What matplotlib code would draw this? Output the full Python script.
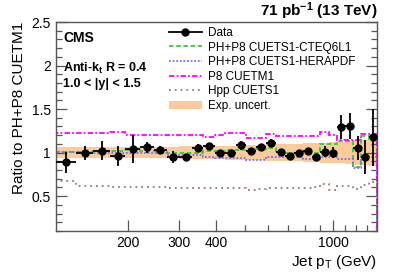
import numpy as np
import matplotlib
matplotlib.use("Agg")
import matplotlib.pyplot as plt
from matplotlib.lines import Line2D
from matplotlib.patches import Patch
from matplotlib.ticker import FixedLocator, NullFormatter, FixedFormatter, MultipleLocator

plt.rcParams['font.family'] = ['Liberation Sans', 'DejaVu Sans']
plt.rcParams['mathtext.fontset'] = 'custom'
plt.rcParams['mathtext.rm'] = 'Liberation Sans'
plt.rcParams['mathtext.it'] = 'Liberation Sans:italic'
plt.rcParams['mathtext.bf'] = 'Liberation Sans:bold'

# ---- data ----
bin_edges = [114, 133, 153, 174, 196, 220, 245, 272, 300, 330, 362, 395, 430, 468,
             507, 548, 592, 638, 686, 737, 790, 846, 905, 967, 1032, 1101, 1172,
             1248, 1327, 1410]
data_ratio = [0.887, 0.99, 1.02, 0.96, 1.04, 1.06, 1.03, 0.95, 0.95, 1.055, 1.075,
              0.995, 1.0, 1.085, 1.017, 1.063, 1.115, 1.01, 0.963, 0.994, 1.013,
              0.945, 1.01, 1.0, 1.297, 1.305, 1.055, 0.95, 1.175]
data_err = [0.12, 0.08, 0.11, 0.115, 0.16, 0.06, 0.05, 0.07, 0.03, 0.04, 0.04, 0.03,
            0.025, 0.05, 0.03, 0.04, 0.04, 0.03, 0.03, 0.03, 0.03, 0.04, 0.06, 0.065,
            0.14, 0.15, 0.14, 0.2, 0.33]
cteq6l1 = [1.01, 1.01, 1.02, 1.02, 1.03, 1.02, 1.02, 0.99, 0.99, 1.0, 1.02, 1.02,
           1.03, 1.03, 1.04, 1.04, 1.05, 1.0, 0.99, 1.0, 1.0, 1.0, 1.10, 1.10,
           1.13, 1.13, 0.84, 1.19, 1.16]
herapdf = [1.01, 1.01, 1.0, 1.0, 0.99, 0.99, 0.99, 0.97, 0.97, 0.97, 0.95, 0.94,
           0.94, 0.94, 0.92, 0.92, 0.95, 0.95, 0.95, 0.95, 0.93, 0.93, 0.95, 0.95,
           0.93, 0.93, 0.82, 0.95, 0.95]
p8_cuetm1 = [1.23, 1.23, 1.22, 1.235, 1.20, 1.20, 1.20, 1.20, 1.20, 1.20, 1.18, 1.20,
             1.22, 1.22, 1.165, 1.17, 1.21, 1.19, 1.19, 1.19, 1.19, 1.19, 1.24, 1.20,
             1.14, 1.14, 1.14, 1.21, 1.21]
hpp_cuets1 = [0.67, 0.62, 0.615, 0.60, 0.60, 0.60, 0.60, 0.595, 0.595, 0.59, 0.59,
              0.59, 0.59, 0.59, 0.575, 0.585, 0.59, 0.59, 0.59, 0.59, 0.59, 0.60,
              0.635, 0.57, 0.62, 0.62, 0.58, 0.63, 0.66]
exp_unc = [0.065, 0.065, 0.065, 0.065, 0.065, 0.065, 0.065, 0.065, 0.07, 0.07, 0.075,
           0.075, 0.08, 0.08, 0.085, 0.09, 0.095, 0.10, 0.10, 0.10, 0.105, 0.11,
           0.115, 0.12, 0.125, 0.13, 0.14, 0.145, 0.15]

x_major = [200, 300, 400, 1000]
x_major_labels = ['200', '300', '400', '1000']
x_minor = [500, 600, 700, 800, 900, 1100, 1200, 1300, 1400]
labels = ['Data', 'PH+P8 CUETS1-CTEQ6L1', 'PH+P8 CUETS1-HERAPDF', 'P8 CUETM1',
          'Hpp CUETS1', 'Exp. uncert.']

# ---- styles ----
c_band = '#fdcb9b'
c_green = '#33cc33'
c_blue = '#7070ff'
c_mag = '#ff00ff'
c_brown = '#9a7a6a'

edges = np.array(bin_edges, dtype=float)
centers = 0.5 * (edges[:-1] + edges[1:])
xerr = [centers - edges[:-1], edges[1:] - centers]

fig = plt.figure(figsize=(3.99, 2.72), dpi=100)
ax = fig.add_axes([0.140, 0.151, 0.805, 0.768])
ax.set_xscale('log')

unc = np.array(exp_unc)
ax.stairs(1 + unc, edges, baseline=1 - unc, fill=True, color=c_band, lw=0, zorder=1)
ax.stairs(cteq6l1, edges, color=c_green, lw=1.3, ls=(0, (2.5, 1.5)), zorder=2)
ax.stairs(herapdf, edges, color=c_blue, lw=1.3, ls=(0, (1, 1)), zorder=2)
ax.stairs(p8_cuetm1, edges, color=c_mag, lw=1.3, ls=(0, (3, 1.2, 1, 1.2)), zorder=2)
ax.stairs(hpp_cuets1, edges, color=c_brown, lw=1.3, ls=(0, (1, 2.2)), zorder=2)
ax.errorbar(centers, data_ratio, yerr=data_err, xerr=xerr, fmt='o', color='black',
            ms=5, lw=1.3, capsize=0, zorder=4)

ax.set_xlim(edges[0], edges[-1])
ax.set_ylim(0.1, 2.5)

ax.xaxis.set_major_locator(FixedLocator(x_major))
ax.xaxis.set_major_formatter(FixedFormatter(x_major_labels))
ax.xaxis.set_minor_locator(FixedLocator(x_minor))
ax.xaxis.set_minor_formatter(NullFormatter())
ax.yaxis.set_major_locator(MultipleLocator(0.5))
ax.yaxis.set_minor_locator(MultipleLocator(0.1))
ax.tick_params(which='both', direction='in', right=True, top=False, labelsize=10, width=0.9, color='#555555')
ax.tick_params(which='major', length=8)
ax.tick_params(which='minor', length=4)
for s in ax.spines.values():
    s.set_linewidth(1.0)
    s.set_color('#555555')
ax.yaxis.set_major_formatter(matplotlib.ticker.FuncFormatter(lambda v, p: ('%g' % v)))

ax.set_ylabel('Ratio to PH+P8 CUETM1', fontsize=11, loc='top', labelpad=4)
ax.set_xlabel(r'Jet p$_\mathrm{T}$ (GeV)', fontsize=11, loc='right', labelpad=2)

fig.text(0.945, 0.958, r'71 pb$^{\mathbf{-1}}$ (13 TeV)', fontsize=11, fontweight='bold',
         ha='right', va='center')
ax.text(0.022, 0.923, 'CMS', transform=ax.transAxes, fontsize=10, fontweight='bold', va='center')
ax.text(0.022, 0.776, r'Anti-k$_\mathbf{t}$ R = 0.4', transform=ax.transAxes, fontsize=9,
        fontweight='bold', va='center')
ax.text(0.022, 0.702, '1.0 < |y| < 1.5', transform=ax.transAxes, fontsize=9,
        fontweight='bold', va='center')

handles = [
    Line2D([], [], color='black', marker='o', ms=5, lw=1.3),
    Line2D([], [], color=c_green, lw=1.3, ls=(0, (2.5, 1.5))),
    Line2D([], [], color=c_blue, lw=1.3, ls=(0, (1, 1))),
    Line2D([], [], color=c_mag, lw=1.3, ls=(0, (3, 1.2, 1, 1.2))),
    Line2D([], [], color=c_brown, lw=1.3, ls=(0, (1, 2.2))),
    Patch(facecolor=c_band, edgecolor='none'),
]
leg = ax.legend(handles, labels, loc='upper left', bbox_to_anchor=(0.33, 1.01),
                frameon=False, fontsize=8.5, handlelength=2.8, handletextpad=0.5,
                labelspacing=0.22, borderaxespad=0.2)

fig.savefig('out.png', dpi=100)
